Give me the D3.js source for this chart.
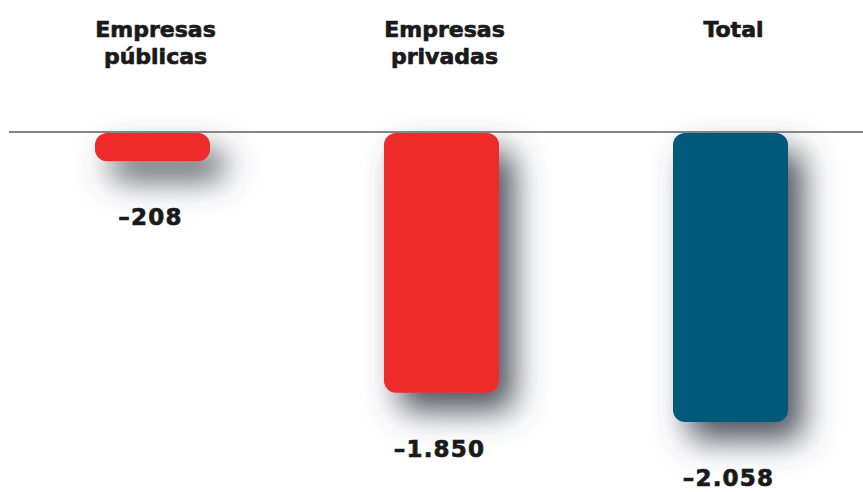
<!DOCTYPE html>
<html>
<head>
<meta charset="utf-8">
<script src="https://cdn.jsdelivr.net/npm/d3@7"></script>
<style>
  html, body { margin: 0; padding: 0; background: #ffffff; }
  svg { display: block; }
  text { font-family: "DejaVu Sans", "Liberation Sans", sans-serif; font-weight: bold; fill: #1a1a1a; stroke: #1a1a1a; stroke-width: 0.7px; }
</style>
</head>
<body>
<svg id="chart" width="863" height="492"></svg>
<script>
const categories = ["Empresas públicas", "Empresas privadas", "Total"];
const headerLines = [["Empresas", "públicas"], ["Empresas", "privadas"], ["Total"]];
const values = [-208, -1850, -2058];
const valueLabels = ["–208", "–1.850", "–2.058"];
const barColors = ["#ee2b2a", "#ee2b2a", "#00587a"];

const W = 863, H = 492;
const svg = d3.select("#chart");

const defs = svg.append("defs");
const f = defs.append("filter").attr("id", "shadow")
  .attr("filterUnits", "userSpaceOnUse")
  .attr("x", 0).attr("y", 0).attr("width", W).attr("height", H);
f.append("feDropShadow")
  .attr("dx", 15).attr("dy", 18).attr("stdDeviation", 16)
  .attr("flood-color", "#444a53").attr("flood-opacity", 0.95);

const x = d3.scaleBand()
  .domain(categories)
  .range([95, 788])
  .paddingInner(0.602)
  .paddingOuter(0);

const y = d3.scaleLinear()
  .domain([0, -2200])
  .range([132, 442]);

const data = categories.map((c, i) => ({ c, v: values[i], label: valueLabels[i], color: barColors[i], lines: headerLines[i] }));

// bars (drawn with shadow)
svg.append("g").selectAll("path")
  .data(data)
  .join("path")
  .attr("filter", "url(#shadow)")
  .attr("fill", d => d.color)
  .attr("d", d => {
    const x0 = x(d.c), w = x.bandwidth();
    const y0 = y(0) + 1, h = y(d.v) - y(0) - 1;
    const r = Math.min(12, h / 2);
    const p = d3.path();
    p.moveTo(x0 + r, y0);
    p.lineTo(x0 + w - r, y0);
    p.arcTo(x0 + w, y0, x0 + w, y0 + r, r);
    p.lineTo(x0 + w, y0 + h - r);
    p.arcTo(x0 + w, y0 + h, x0 + w - r, y0 + h, r);
    p.lineTo(x0 + r, y0 + h);
    p.arcTo(x0, y0 + h, x0, y0 + h - r, r);
    p.lineTo(x0, y0 + r);
    p.arcTo(x0, y0, x0 + r, y0, r);
    p.closePath();
    return p.toString();
  });

// baseline
svg.append("line")
  .attr("x1", 9).attr("x2", W)
  .attr("y1", y(0)).attr("y2", y(0))
  .attr("stroke", "#858585").attr("stroke-width", 2);

// headers
const hdr = svg.append("g").selectAll("text")
  .data(data)
  .join("text")
  .attr("text-anchor", "middle")
  .attr("font-size", 22)
  .attr("x", d => x(d.c) + x.bandwidth() / 2 + 3)
  .attr("y", 37);
hdr.selectAll("tspan")
  .data(d => d.lines.map(l => ({ l, cx: x(d.c) + x.bandwidth() / 2 + 3 })))
  .join("tspan")
  .attr("x", t => t.cx)
  .attr("dy", (t, i) => i === 0 ? 0 : 27)
  .text(t => t.l);

// value labels
svg.append("g").selectAll("text")
  .data(data)
  .join("text")
  .attr("text-anchor", "middle")
  .attr("font-size", 23)
  .attr("letter-spacing", 1.2)
  .attr("x", d => x(d.c) + x.bandwidth() / 2 - 2)
  .attr("y", d => y(d.v) + 64)
  .text(d => d.label);
</script>
</body>
</html>
